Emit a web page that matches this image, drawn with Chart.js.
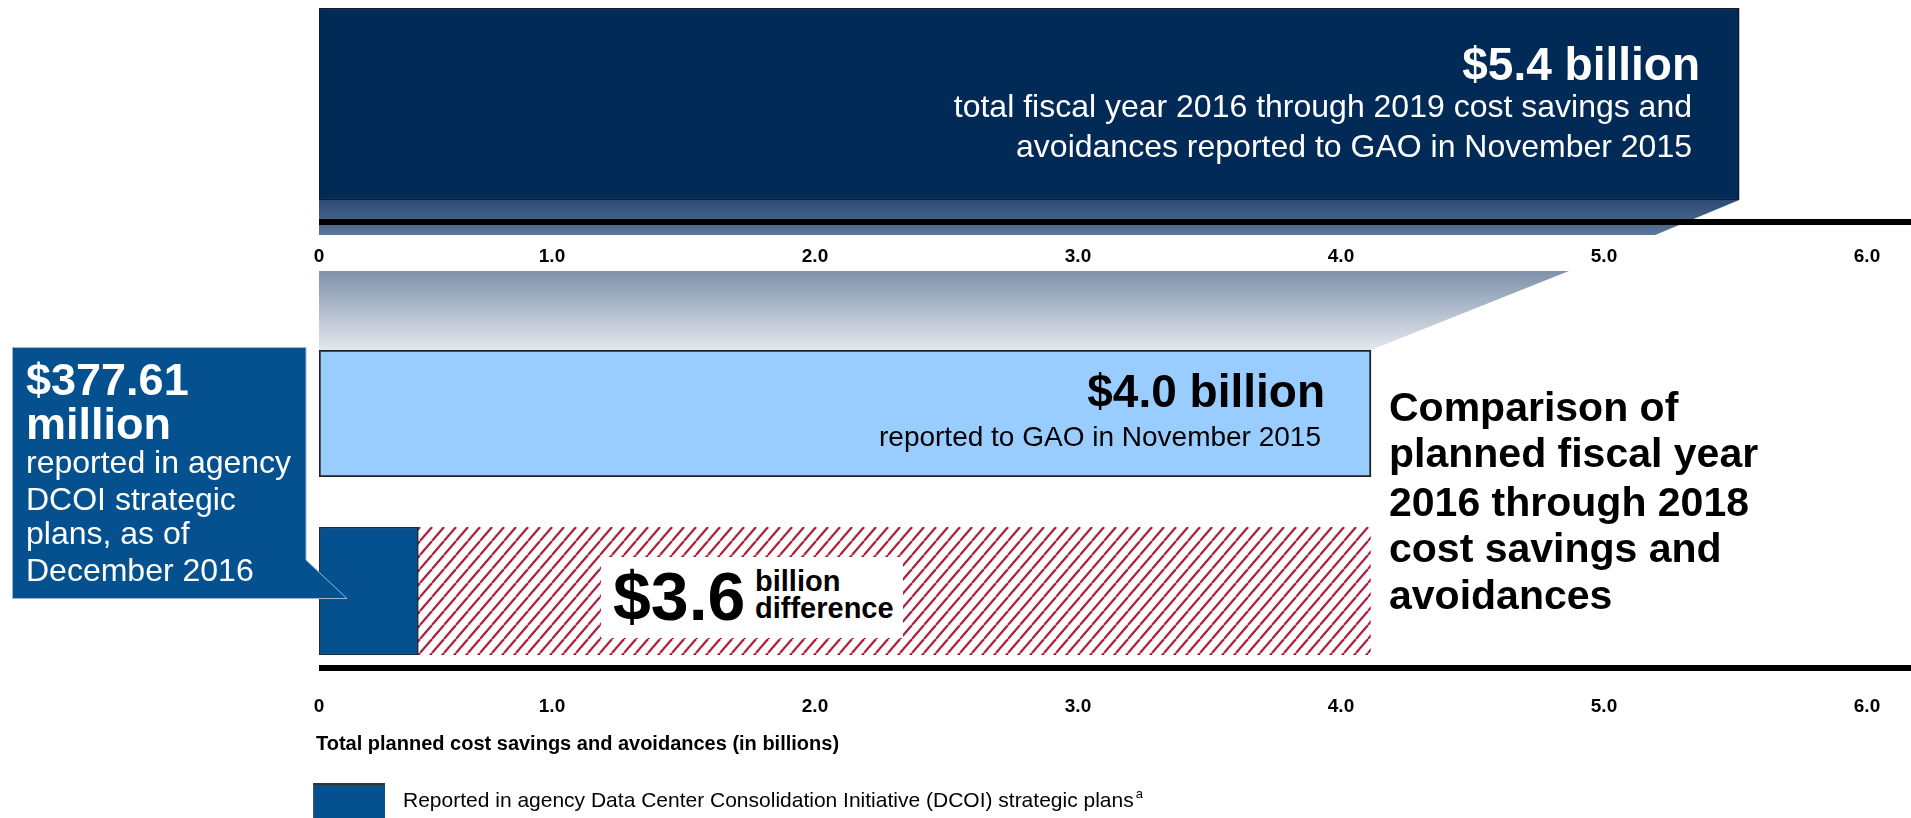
<!DOCTYPE html>
<html>
<head>
<meta charset="utf-8">
<script src="https://cdn.jsdelivr.net/npm/chart.js@4.4.1/dist/chart.umd.min.js"></script>
<style>
  body { margin: 0; width: 1911px; height: 818px; overflow: hidden; background: #fff; position: relative;
         font-family: "Liberation Sans", Arial, sans-serif; }
  canvas, .t, .box, svg { position: absolute; }
  .t { white-space: nowrap; }
  .w { color: #fff; }
  .b { font-weight: bold; }
</style>
</head>
<body>
<canvas id="topChart" width="1911" height="350" style="left:0;top:0"></canvas>
<canvas id="midChart" width="1911" height="127" style="left:0;top:350px"></canvas>
<canvas id="lowChart" width="1911" height="291" style="left:0;top:527px"></canvas>

<!-- text on the top bar -->
<div class="t w b" style="right:211px;top:41px;font-size:46px;line-height:46px">$5.4 billion</div>
<div class="t w" style="right:219px;top:90px;font-size:32px;line-height:32px">total fiscal year 2016 through 2019 cost savings and</div>
<div class="t w" style="right:219px;top:130px;font-size:32px;line-height:32px">avoidances reported to GAO in November 2015</div>

<!-- text on the light blue bar -->
<div class="t b" style="right:586px;top:368px;font-size:46px;line-height:46px">$4.0 billion</div>
<div class="t" style="right:590px;top:423px;font-size:28px;line-height:28px">reported to GAO in November 2015</div>

<!-- difference label -->
<div class="box" style="left:601px;top:557px;width:302px;height:81px;background:#fff"></div>
<div class="t b" style="left:613px;top:562px;font-size:68px;line-height:68px">$3.6</div>
<div class="t b" style="left:755px;top:567px;font-size:29px;line-height:29px">billion</div>
<div class="t b" style="left:755px;top:594px;font-size:29px;line-height:29px">difference</div>

<!-- callout -->
<svg width="360" height="610" style="left:0;top:0">
  <path d="M12.5,347.5 H306 V560 L347,598.5 H12.5 Z" fill="#05508f" stroke="#9db6d2" stroke-width="1"/>
</svg>
<div class="t w b" style="left:26px;top:357px;font-size:45px;line-height:45px">$377.61</div>
<div class="t w b" style="left:26px;top:401px;font-size:45px;line-height:45px">million</div>
<div class="t w" style="left:26px;top:446px;font-size:32px;line-height:32px">reported in agency</div>
<div class="t w" style="left:26px;top:483px;font-size:32px;line-height:32px">DCOI strategic</div>
<div class="t w" style="left:26px;top:517px;font-size:32px;line-height:32px">plans, as of</div>
<div class="t w" style="left:26px;top:554px;font-size:32px;line-height:32px">December 2016</div>

<!-- right side title -->
<div class="t b" style="left:1389px;top:387px;font-size:41px;line-height:41px">Comparison of</div>
<div class="t b" style="left:1389px;top:433px;font-size:41px;line-height:41px">planned fiscal year</div>
<div class="t b" style="left:1389px;top:482px;font-size:41px;line-height:41px">2016 through 2018</div>
<div class="t b" style="left:1389px;top:528px;font-size:41px;line-height:41px">cost savings and</div>
<div class="t b" style="left:1389px;top:575px;font-size:41px;line-height:41px">avoidances</div>

<!-- axis title and legend -->
<div class="t b" style="left:316px;top:733px;font-size:20px;line-height:20px">Total planned cost savings and avoidances (in billions)</div>
<div class="box" style="left:313px;top:783px;width:71px;height:40px;background:#05508f;border-top:2px solid #333;border-left:1px solid #555"></div>
<div class="t" style="left:403px;top:789px;font-size:21px;line-height:21px">Reported in agency Data Center Consolidation Initiative (DCOI) strategic plans<span style="font-size:13px;position:relative;top:-9px;margin-left:2px">a</span></div>

<script>
const tickValues = [0, 1, 2, 3, 4, 5, 6];
const tickLabels = ['0', '1.0', '2.0', '3.0', '4.0', '5.0', '6.0'];

const totalFY2016to2019 = [5.4];   // reported to GAO, Nov 2015
const plannedNov2015 = [4.0];      // FY2016-2018, reported to GAO, Nov 2015
const dcoiPlans = [0.37761];       // agency DCOI strategic plans, Dec 2016
const difference = [3.62];

const FONT = '"Liberation Sans", Arial, sans-serif';

function hatch() {
    const c = document.createElement('canvas');
    c.width = 12; c.height = 14;
    const g = c.getContext('2d');
    g.strokeStyle = '#ad1f3a';
    g.lineWidth = 2.2;
    [-12, 0, 12].forEach(dx => {
        g.beginPath();
        g.moveTo(dx, 14);
        g.lineTo(dx + 12, 0);
        g.stroke();
    });
    return g.createPattern(c, 'repeat');
}

// thick axis line and tick labels under a chart area
function drawAxis(chart, lineY, labelY) {
    const { ctx, chartArea, scales } = chart;
    ctx.save();
    ctx.fillStyle = '#000';
    ctx.fillRect(chartArea.left, lineY - 3, chart.width - chartArea.left, 6);
    ctx.font = 'bold 19px ' + FONT;
    ctx.textAlign = 'center';
    tickValues.forEach((v, i) => {
        const px = scales.x.getPixelForValue(v) - (v === 0 ? 0 : 30);
        ctx.fillText(tickLabels[i], px, labelY);
    });
    ctx.restore();
}

const topDecor = {
    id: 'topDecor',
    afterDraw(chart) {
        const { ctx, chartArea, scales } = chart;
        const bar = chart.getDatasetMeta(0).data[0];
        const b = chartArea.bottom;

        // shadow under the top bar
        let g = ctx.createLinearGradient(0, b, 0, b + 35);
        g.addColorStop(0, '#2c4a73');
        g.addColorStop(1, '#5a7698');
        ctx.fillStyle = g;
        ctx.beginPath();
        ctx.moveTo(bar.base, b);
        ctx.lineTo(bar.x, b);
        ctx.lineTo(bar.x - 84, b + 35);
        ctx.lineTo(bar.base, b + 35);
        ctx.closePath();
        ctx.fill();

        // projection down onto the 2016-2018 bar
        const end = scales.x.getPixelForValue(plannedNov2015[0]);
        g = ctx.createLinearGradient(0, b + 71, 0, b + 150);
        g.addColorStop(0, '#7e92ab');
        g.addColorStop(1, '#e4e8ee');
        ctx.fillStyle = g;
        ctx.beginPath();
        ctx.moveTo(bar.base, b + 71);
        ctx.lineTo(end + 198, b + 71);
        ctx.lineTo(end, b + 150);
        ctx.lineTo(bar.base, b + 150);
        ctx.closePath();
        ctx.fill();

        drawAxis(chart, b + 22, b + 62);
    }
};

const lowDecor = {
    id: 'lowDecor',
    afterDraw(chart) {
        const b = chart.chartArea.bottom;
        drawAxis(chart, b + 13, b + 57);
    }
};

function rowOptions(padTop, padBottom) {
    return {
        indexAxis: 'y',
        responsive: false,
        animation: false,
        layout: { padding: { left: 319, right: 14, top: padTop, bottom: padBottom } },
        plugins: { legend: { display: false }, tooltip: { enabled: false } },
        scales: {
            x: { min: 0, max: 6, display: false, stacked: true },
            y: { display: false, stacked: true }
        }
    };
}

new Chart(document.getElementById('topChart'), {
    type: 'bar',
    data: {
        labels: ['FY2016-2019'],
        datasets: [{
            data: totalFY2016to2019,
            backgroundColor: '#022a56',
            borderColor: '#0e1a2c',
            borderWidth: 1.5,
            borderSkipped: false,
            barPercentage: 1,
            categoryPercentage: 1
        }]
    },
    options: rowOptions(8, 150),
    plugins: [topDecor]
});

new Chart(document.getElementById('midChart'), {
    type: 'bar',
    data: {
        labels: ['FY2016-2018'],
        datasets: [{
            data: plannedNov2015,
            backgroundColor: '#99ccff',
            borderColor: '#222',
            borderWidth: 2,
            borderSkipped: false,
            barPercentage: 1,
            categoryPercentage: 1
        }]
    },
    options: rowOptions(0, 0)
});

new Chart(document.getElementById('lowChart'), {
    type: 'bar',
    data: {
        labels: ['DCOI plans'],
        datasets: [{
            label: 'Reported in agency Data Center Consolidation Initiative (DCOI) strategic plans',
            data: dcoiPlans,
            backgroundColor: '#05508f',
            borderColor: '#1c2a3a',
            borderWidth: 1.5,
            borderSkipped: false,
            barPercentage: 1,
            categoryPercentage: 1
        }, {
            label: 'Difference',
            data: difference,
            backgroundColor: hatch(),
            borderWidth: 0,
            barPercentage: 1,
            categoryPercentage: 1
        }]
    },
    options: rowOptions(0, 163),
    plugins: [lowDecor]
});
</script>
</body>
</html>
